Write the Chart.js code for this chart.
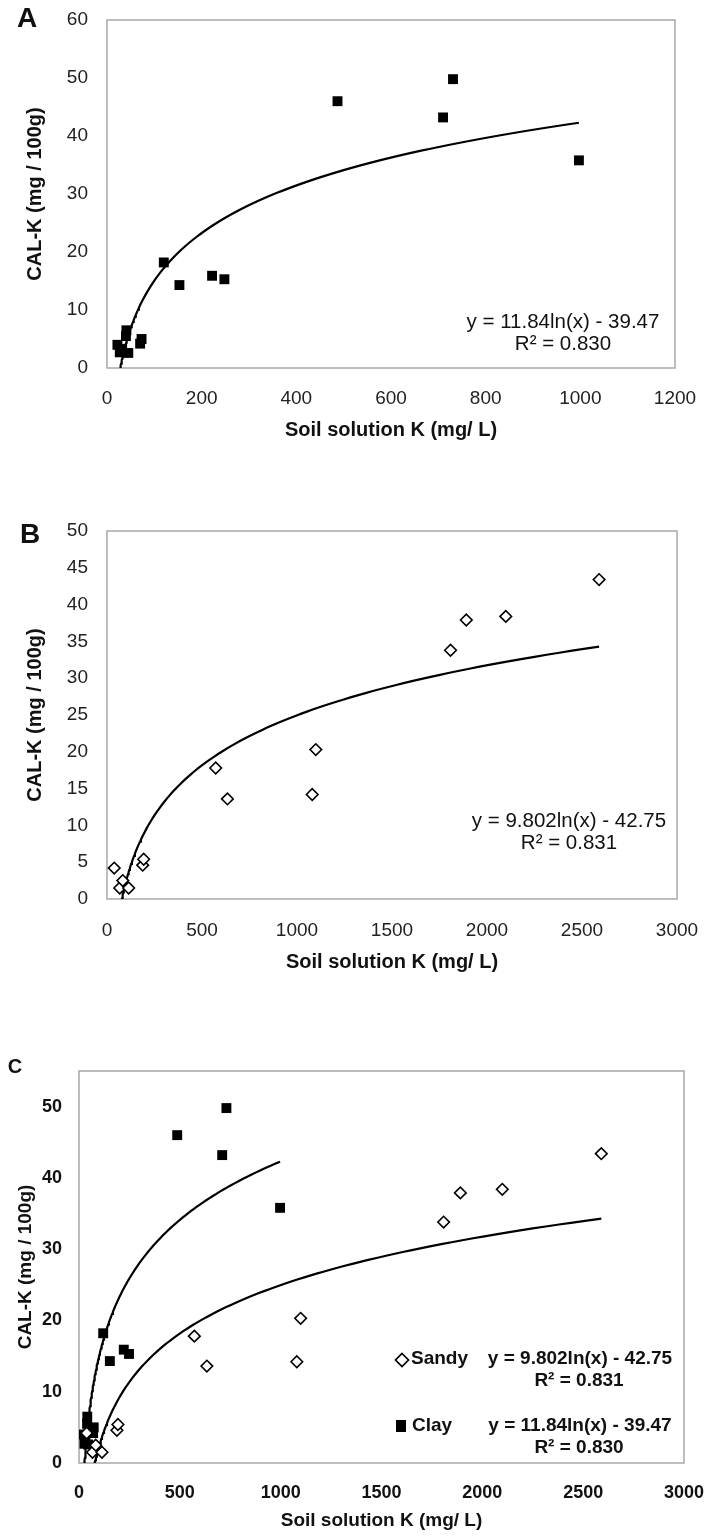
<!DOCTYPE html>
<html>
<head>
<meta charset="utf-8">
<script src="https://cdn.jsdelivr.net/npm/chart.js@4.4.1/dist/chart.umd.min.js"></script>
<style>
  html, body { margin: 0; padding: 0; background: #fff; }
  body { width: 708px; height: 1538px; position: relative; overflow: hidden; }
  canvas { position: absolute; left: 0; }
</style>
</head>
<body>
<canvas id="chartA" width="708" height="452" style="top:0"></canvas>
<canvas id="chartB" width="708" height="510" style="top:470px"></canvas>
<canvas id="chartC" width="708" height="558" style="top:980px"></canvas>
<script>
// clay soils (panel A, and C)
const clayX = [22, 27, 32, 40, 41, 45, 70, 73, 120, 153, 222, 248, 487, 710, 731, 997];
const clayY = [4.0, 2.7, 3.3, 5.5, 6.5, 2.6, 4.2, 5.0, 18.2, 14.3, 15.9, 15.3, 46.0, 43.2, 49.8, 35.8];
// sandy soils (panel B, and C)
const sandyX = [38, 67, 83, 114, 188, 193, 572, 634, 1080, 1099, 1808, 1891, 2099, 2590];
const sandyY = [4.2, 1.5, 2.5, 1.5, 4.6, 5.4, 17.8, 13.6, 14.2, 20.3, 33.8, 37.9, 38.4, 43.4];
// log trendlines: y = a*ln(x) + b
const clayFit = [11.84, -39.47];
const sandyFit = [9.802, -42.75];
const clayEq = ["y = 11.84ln(x) - 39.47", "R\u00b2 = 0.830"];
const sandyEq = ["y = 9.802ln(x) - 42.75", "R\u00b2 = 0.831"];

const yTitle = "CAL-K (mg / 100g)";
const xTitle = "Soil solution K (mg/ L)";
const FONT = "'Liberation Sans', Arial, sans-serif";

function points(xs, ys) {
  return xs.map((x, i) => ({ x: x, y: ys[i] }));
}

function trend(fit, xs) {
  const lo = Math.min(...xs), hi = Math.max(...xs);
  const pts = [];
  for (let i = 0; i <= 150; i++) {
    const x = lo * Math.pow(hi / lo, i / 150);
    pts.push({ x: x, y: fit[0] * Math.log(x) + fit[1] });
  }
  return pts;
}

const clayPts = { data: points(clayX, clayY), pointStyle: "rect", pointRadius: 7,
  backgroundColor: "#000", borderColor: "#000", borderWidth: 0, showLine: false };
const sandyPts = { data: points(sandyX, sandyY), pointStyle: "rectRot", pointRadius: 5.8,
  backgroundColor: "#fff", borderColor: "#000", borderWidth: 1.6, showLine: false };
function trendSet(fit, xs) {
  return { data: trend(fit, xs), showLine: true, pointRadius: 0, borderColor: "#000",
    borderWidth: 2.2, tension: 0 };
}

// plot frame
const frame = {
  id: "frame",
  beforeDatasetsDraw(chart) {
    const a = chart.chartArea, ctx = chart.ctx;
    ctx.save();
    ctx.strokeStyle = "#a8a8a8";
    ctx.lineWidth = 1.5;
    ctx.strokeRect(a.left, a.top, a.right - a.left, a.bottom - a.top);
    ctx.restore();
  }
};

// panel letters, equations, legend
const notes = {
  id: "notes",
  afterDraw(chart, args, opts) {
    const ctx = chart.ctx;
    ctx.save();
    ctx.fillStyle = "#111";
    ctx.textBaseline = "middle";
    (opts.items || []).forEach(t => {
      ctx.font = t.font;
      ctx.textAlign = t.align || "center";
      ctx.fillText(t.text, t.x, t.y);
    });
    (opts.marks || []).forEach(m => {
      ctx.beginPath();
      ctx.lineWidth = 1.7;
      ctx.strokeStyle = "#000";
      if (m.style === "diamond") {
        ctx.moveTo(m.x, m.y - 6.5); ctx.lineTo(m.x + 6.5, m.y);
        ctx.lineTo(m.x, m.y + 6.5); ctx.lineTo(m.x - 6.5, m.y); ctx.closePath();
        ctx.fillStyle = "#fff"; ctx.fill(); ctx.stroke();
      } else {
        ctx.fillStyle = "#000";
        ctx.fillRect(m.x - 5, m.y - 6, 10, 12);
      }
    });
    ctx.restore();
  }
};

function makeChart(id, p) {
  return new Chart(document.getElementById(id), {
    type: "scatter",
    data: { datasets: p.datasets },
    plugins: [frame, notes],
    options: {
      responsive: false,
      animation: false,
      layout: { padding: p.pad },
      plugins: {
        legend: { display: false },
        tooltip: { enabled: false },
        notes: { items: p.items, marks: p.marks || [] }
      },
      scales: {
        x: {
          type: "linear", min: p.xMin, max: p.xMax,
          grid: { display: false, drawTicks: false },
          border: { display: false },
          ticks: { stepSize: p.xStep, padding: p.xTickPad, color: p.tickColor,
            callback: v => String(v),
            font: { family: FONT, size: p.tickSize, weight: p.tickWeight } },
          title: { display: true, text: xTitle, color: "#111",
            font: { family: FONT, size: p.titleSize, weight: "bold" },
            padding: { top: 0, bottom: p.xTitlePad } },
          afterFit: s => {
            s.height = p.xHeight;
            s.paddingLeft = 0; s.paddingRight = 0;
          }
        },
        y: {
          type: "linear", min: 0, max: p.yMax,
          grid: { display: false, drawTicks: false },
          border: { display: false },
          ticks: { stepSize: p.yStep, padding: p.yTickPad, color: p.tickColor,
            callback: v => String(v),
            font: { family: FONT, size: p.tickSize, weight: p.tickWeight } },
          afterBuildTicks: s => { s.ticks = s.ticks.filter(t => t.value % p.yStep === 0); },
          title: { display: true, text: yTitle, color: "#111",
            font: { family: FONT, size: p.titleSize, weight: "bold" },
            padding: { top: p.yTitlePad, bottom: 0 } },
          afterFit: s => {
            s.width = p.yWidth;
            s.paddingTop = 0; s.paddingBottom = 0;
          }
        }
      }
    }
  });
}

makeChart("chartA", {
  datasets: [clayPts, trendSet(clayFit, clayX)],
  pad: { top: 20, right: 33, left: 0, bottom: 0 },
  xMin: 0, xMax: 1200, xStep: 200, yMax: 60, yStep: 10,
  xHeight: 84, yWidth: 107, xTickPad: 19, yTickPad: 19, xTitlePad: 10, yTitlePad: 23,
  tickSize: 19, tickWeight: "normal", tickColor: "#222", titleSize: 20,
  items: [
    { text: "A", x: 27, y: 19, font: "bold 28px " + FONT },
    { text: clayEq[0], x: 563, y: 322, font: "20.5px " + FONT },
    { text: clayEq[1], x: 563, y: 344, font: "20.5px " + FONT }
  ]
});

makeChart("chartB", {
  datasets: [sandyPts, trendSet(sandyFit, sandyX)],
  pad: { top: 61, right: 31, left: 0, bottom: 0 },
  xMin: 0, xMax: 3000, xStep: 500, yMax: 50, yStep: 5,
  xHeight: 81, yWidth: 107, xTickPad: 20, yTickPad: 19, xTitlePad: 6, yTitlePad: 23,
  tickSize: 19, tickWeight: "normal", tickColor: "#222", titleSize: 20,
  items: [
    { text: "B", x: 30, y: 65, font: "bold 28px " + FONT },
    { text: sandyEq[0], x: 569, y: 351, font: "20.5px " + FONT },
    { text: sandyEq[1], x: 569, y: 373, font: "20.5px " + FONT }
  ]
});

makeChart("chartC", {
  datasets: [sandyPts, clayPts, trendSet(sandyFit, sandyX), trendSet(clayFit, clayX)],
  pad: { top: 91, right: 24, left: 0, bottom: 0 },
  xMin: 0, xMax: 3000, xStep: 500, yMax: 55, yStep: 10,
  xHeight: 75, yWidth: 79, xTickPad: 19, yTickPad: 17, xTitlePad: 6, yTitlePad: 14,
  tickSize: 18, tickWeight: "bold", tickColor: "#111", titleSize: 19,
  items: [
    { text: "C", x: 15, y: 87, font: "bold 20px " + FONT },
    { text: "Sandy", x: 411, y: 379, align: "left", font: "bold 19px " + FONT },
    { text: sandyEq[0], x: 580, y: 379, font: "bold 19px " + FONT },
    { text: sandyEq[1], x: 579, y: 401, font: "bold 19px " + FONT },
    { text: "Clay", x: 412, y: 446, align: "left", font: "bold 19px " + FONT },
    { text: clayEq[0], x: 580, y: 446, font: "bold 19px " + FONT },
    { text: clayEq[1], x: 579, y: 468, font: "bold 19px " + FONT }
  ],
  marks: [
    { style: "diamond", x: 402, y: 380 },
    { style: "square", x: 401, y: 446 }
  ]
});
</script>
</body>
</html>
